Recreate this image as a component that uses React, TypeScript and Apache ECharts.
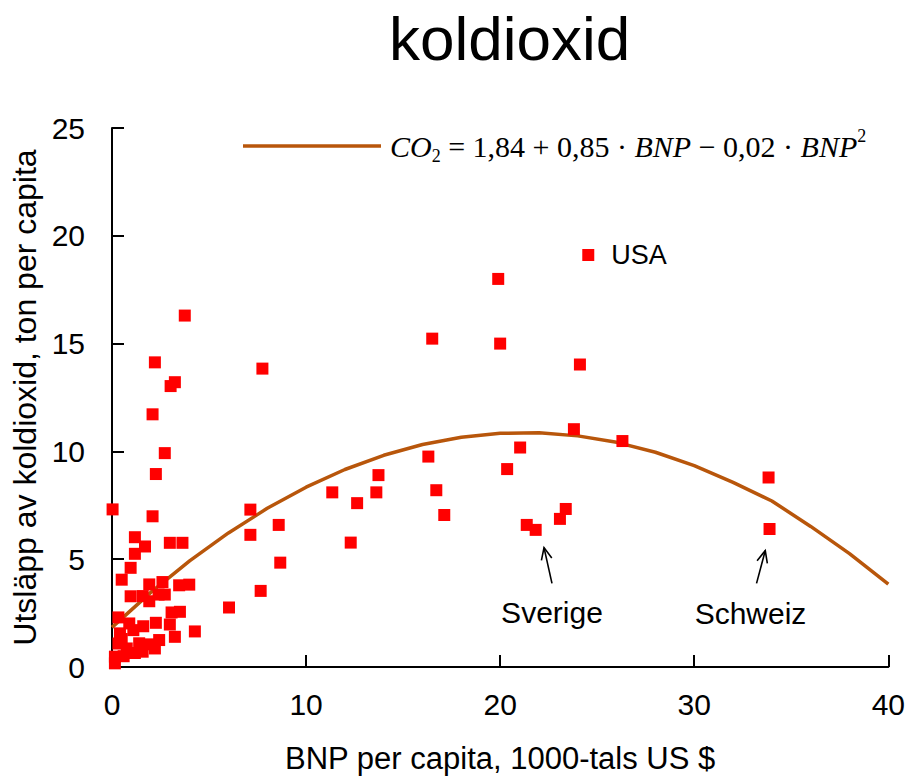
import React, { useEffect, useRef } from "react";
import * as echarts from "echarts";

// Scatter data: BNP per capita (1000 US $) and CO2 emission (ton per capita)
const bnp = [
  3.75, 2.21, 7.75, 3.24, 3.02, 2.09, 2.72, 2.26, 0.03, 2.09, 7.13, 8.59, 7.13, 1.18, 1.7, 2.98, 3.63, 1.18,
  8.67, 0.96, 0.5, 1.92, 2.6, 3.46, 3.98, 7.66, 0.96, 1.58, 1.92, 2.72, 2.4, 6.03, 3.07, 3.5, 0.33, 0.89, 1.61,
  2.26, 2.98, 4.27, 3.24, 0.41, 1.1, 2.43, 1.92, 1.58, 0.76, 0.33, 0.15, 0.6, 0.15, 1.18, 2.21, 0.5, 1.4,
  19.9, 16.5, 20.0, 24.11, 23.8, 26.3, 21.03, 20.36, 16.3, 13.73, 11.35, 12.63, 13.62, 16.71, 17.12, 23.38,
  23.08, 21.37, 21.83, 12.3, 33.83, 33.88,
];
const co2 = [
  16.3, 14.13, 13.84, 13.21, 13.03, 11.72, 9.92, 8.95, 7.31, 6.99, 7.3, 6.59, 6.13, 6.02, 5.59, 5.76, 5.76, 5.25,
  4.84, 4.6, 4.05, 3.83, 3.94, 3.79, 3.82, 3.53, 3.28, 3.29, 3.05, 3.36, 3.36, 2.76, 2.53, 2.56, 2.3, 2.02, 1.89,
  2.05, 1.97, 1.65, 1.4, 1.56, 1.71, 1.25, 1.05, 0.71, 0.86, 1.09, 0.48, 0.5, 0.17, 0.65, 0.86, 1.3, 1.1,
  18.0, 15.23, 15.0, 14.03, 11.03, 10.48, 10.18, 9.18, 9.76, 8.9, 8.1, 7.6, 8.1, 8.2, 7.05, 7.33,
  6.87, 6.59, 6.36, 5.77, 8.79, 6.4,
];

// Labelled point
const namedBnp = [24.54];
const namedCo2 = [19.11];
const pointNames = ["USA"];

// Fitted curve
const curveX = [0, 2, 4, 6, 8, 10, 12, 14, 16, 18, 20, 22, 24, 26, 28, 30, 32, 34, 36, 38, 40];
const curveY = [1.84, 3.46, 4.92, 6.22, 7.36, 8.34, 9.16, 9.82, 10.32, 10.66, 10.84, 10.86, 10.72, 10.42, 9.96, 9.34, 8.56, 7.7, 6.52, 5.26, 3.84];

// Arrow annotations
const arrowNames = ["Sverige", "Schweiz"];
const arrowTail = [[22.67, 3.88], [33.21, 3.88]];
const arrowHead = [[22.26, 5.54], [33.66, 5.4]];
const arrowLabel = [[22.67, 2.54], [32.9, 2.5]];

const xTicks = [0, 10, 20, 30, 40];
const yTicks = [0, 5, 10, 15, 20, 25];

const SANS = "'Liberation Sans', Arial, sans-serif";
const SERIF = "'Liberation Serif', 'Times New Roman', serif";
const CURVE = "#B8560B";

export default function App() {
  const ref = useRef<HTMLDivElement>(null);
  useEffect(() => {
    const chart = echarts.init(ref.current!, null, { renderer: "svg" });
    const option: any = {
      animation: false,
      backgroundColor: "#fff",
      title: {
        text: "koldioxid",
        left: 384,
        top: 2,
        textStyle: { fontSize: 62, fontWeight: "normal", fontFamily: SANS, color: "#000" },
      },
      legend: {
        data: [{ name: "fit", icon: "rect" }],
        left: 238,
        top: 122,
        itemWidth: 138,
        itemHeight: 3.5,
        formatter: () => "{i|CO}{sub|2}{n| = 1,84 + 0,85 · }{i|BNP}{n| − 0,02 · }{i|BNP}{sup|2}",
        textStyle: {
          padding: [0, 0, 0, 4],
          rich: {
            i: { fontFamily: SERIF, fontStyle: "italic", fontSize: 30, color: "#000", lineHeight: 38, verticalAlign: "middle" },
            n: { fontFamily: SERIF, fontSize: 30, color: "#000", lineHeight: 38, verticalAlign: "middle" },
            sub: { fontFamily: SERIF, fontSize: 18, color: "#000", lineHeight: 38, verticalAlign: "bottom" },
            sup: { fontFamily: SERIF, fontSize: 18, color: "#000", lineHeight: 38, verticalAlign: "top" },
          },
        },
      },
      grid: { left: 112, right: 18, top: 128, bottom: 112, containLabel: false },
      xAxis: {
        type: "value",
        min: xTicks[0],
        max: xTicks[xTicks.length - 1],
        interval: 10,
        name: "BNP per capita, 1000-tals US $",
        nameLocation: "middle",
        nameGap: 76,
        nameTextStyle: { fontSize: 31, fontFamily: SANS, color: "#000" },
        axisLine: { show: true, lineStyle: { color: "#000", width: 2 } },
        axisTick: { show: true, inside: true, length: 12, lineStyle: { color: "#000", width: 2 } },
        splitLine: { show: false },
        axisLabel: { fontSize: 30, fontFamily: SANS, color: "#000", margin: 22 },
      },
      yAxis: {
        type: "value",
        min: yTicks[0],
        max: yTicks[yTicks.length - 1],
        interval: 5,
        name: "Utsläpp av koldioxid, ton per capita",
        nameLocation: "middle",
        nameRotate: 90,
        nameGap: 62,
        nameTextStyle: { fontSize: 32, fontFamily: SANS, color: "#000" },
        axisLine: { show: true, lineStyle: { color: "#000", width: 2 } },
        axisTick: { show: true, inside: true, length: 12, lineStyle: { color: "#000", width: 2 } },
        splitLine: { show: false },
        axisLabel: { fontSize: 30, fontFamily: SANS, color: "#000", margin: 27 },
      },
      series: [
        {
          name: "fit",
          type: "line",
          data: curveX.map((x, i) => [x, curveY[i]]),
          symbol: "none",
          showSymbol: false,
          lineStyle: { color: CURVE, width: 3.5 },
          itemStyle: { color: CURVE },
          z: 2,
        },
        {
          name: "länder",
          type: "scatter",
          data: bnp.map((x, i) => [x, co2[i]]),
          symbol: "rect",
          symbolSize: 12,
          itemStyle: { color: "#FF0000", opacity: 1 },
          z: 3,
        },
        {
          name: "named",
          type: "scatter",
          data: namedBnp.map((x, i) => ({ value: [x, namedCo2[i]], name: pointNames[i] })),
          symbol: "rect",
          symbolSize: 12,
          itemStyle: { color: "#FF0000", opacity: 1 },
          label: {
            show: true,
            position: "right",
            distance: 17,
            formatter: (p: any) => p.name,
            fontSize: 27,
            fontFamily: SANS,
            color: "#000",
          },
          z: 3,
        },
        {
          name: "pilar",
          type: "custom",
          data: arrowNames.map((n, i) => [...arrowTail[i], ...arrowHead[i], ...arrowLabel[i]]),
          renderItem: (params: any, api: any) => {
            const t = api.coord([api.value(0), api.value(1)]);
            const h = api.coord([api.value(2), api.value(3)]);
            const l = api.coord([api.value(4), api.value(5)]);
            const ang = Math.atan2(h[1] - t[1], h[0] - t[0]);
            const len = 13;
            const spread = 0.42;
            const p1 = [h[0] - len * Math.cos(ang - spread), h[1] - len * Math.sin(ang - spread)];
            const p2 = [h[0] - len * Math.cos(ang + spread), h[1] - len * Math.sin(ang + spread)];
            return {
              type: "group",
              children: [
                { type: "line", shape: { x1: t[0], y1: t[1], x2: h[0], y2: h[1] }, style: { stroke: "#000", lineWidth: 1.6 } },
                { type: "polyline", shape: { points: [p1, h, p2] }, style: { stroke: "#000", fill: null, lineWidth: 1.6 } },
                {
                  type: "text",
                  x: l[0],
                  y: l[1],
                  style: {
                    text: arrowNames[params.dataIndex],
                    align: "center",
                    verticalAlign: "middle",
                    textAlign: "center",
                    textVerticalAlign: "middle",
                    fontSize: 30,
                    fontFamily: SANS,
                    fill: "#000",
                  },
                },
              ],
            };
          },
          clip: false,
          z: 4,
        },
      ],
    };
    chart.setOption(option);
    return () => chart.dispose();
  }, []);
  return <div ref={ref} style={{ position: "fixed", left: 0, top: 0, width: 908, height: 779 }} />;
}
